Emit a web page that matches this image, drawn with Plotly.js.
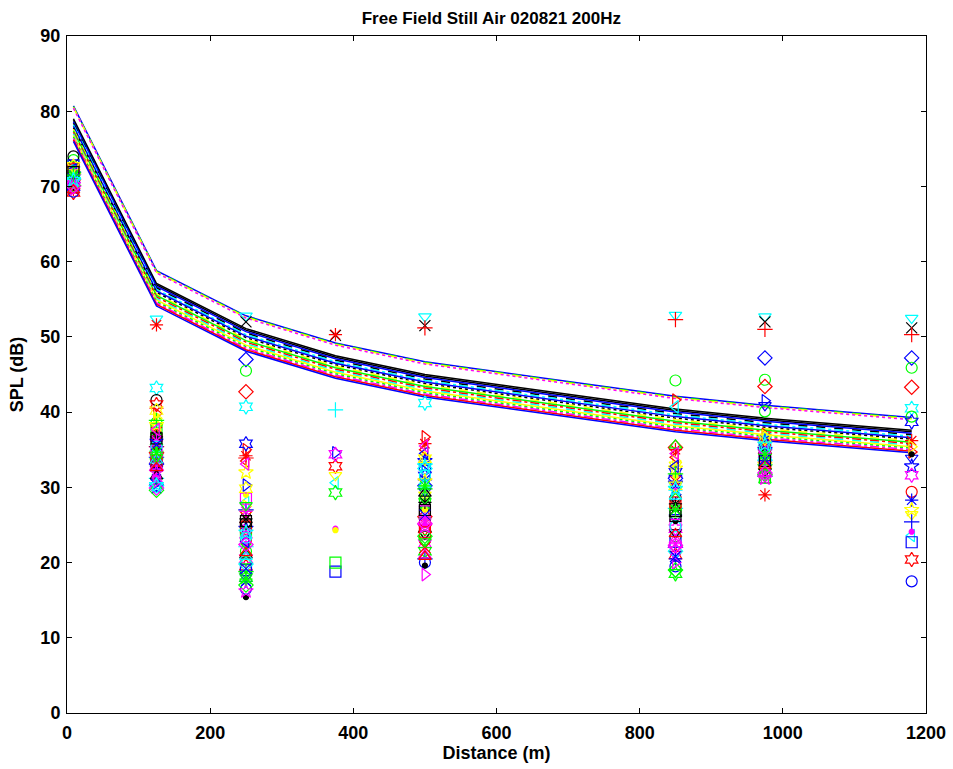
<!DOCTYPE html>
<html>
<head>
<meta charset="utf-8">
<script src="https://cdn.plot.ly/plotly-3.0.1.min.js"></script>
<style>html,body{margin:0;padding:0;background:#fff;}#chart{width:953px;height:769px;}</style>
</head>
<body>
<div id="chart"></div>
<script>
// ---------------- DATA ----------------
const distances = [9, 125, 250, 375, 500, 850, 975, 1180];

// model lines (SPL in dB at each distance)
const lineValues = [
  [80.7, 58.8, 52.8, 49.2, 46.7, 42.1, 40.9, 39.3],
  [80.6, 58.7, 52.7, 49.1, 46.6, 42.0, 40.8, 39.2],
  [80.5, 58.6, 52.6, 49.0, 46.5, 41.9, 40.7, 39.1],
  [80.4, 58.5, 52.5, 48.9, 46.4, 41.8, 40.6, 39.0],
  [79.0, 57.1, 51.1, 47.5, 45.0, 40.4, 39.2, 37.6],
  [78.8, 56.9, 50.9, 47.3, 44.8, 40.2, 39.0, 37.4],
  [78.6, 56.7, 50.7, 47.1, 44.6, 40.0, 38.8, 37.2],
  [78.4, 56.5, 50.5, 46.9, 44.4, 39.8, 38.6, 37.0],
  [78.2, 56.3, 50.3, 46.7, 44.2, 39.6, 38.4, 36.8],
  [78.0, 56.1, 50.1, 46.5, 44.0, 39.4, 38.2, 36.6],
  [77.8, 55.9, 49.9, 46.3, 43.8, 39.2, 38.0, 36.4],
  [77.6, 55.7, 49.7, 46.1, 43.6, 39.0, 37.8, 36.2],
  [77.4, 55.5, 49.5, 45.9, 43.4, 38.8, 37.6, 36.0],
  [77.2, 55.3, 49.3, 45.7, 43.2, 38.6, 37.4, 35.8],
  [77.0, 55.1, 49.1, 45.5, 43.0, 38.4, 37.2, 35.6],
  [76.8, 54.9, 48.9, 45.3, 42.8, 38.2, 37.0, 35.4],
  [76.6, 54.7, 48.7, 45.1, 42.6, 38.0, 36.8, 35.2],
  [76.4, 54.5, 48.5, 44.9, 42.4, 37.8, 36.6, 35.0],
  [76.2, 54.3, 48.3, 44.7, 42.2, 37.6, 36.4, 34.8],
  [76.0, 54.1, 48.1, 44.5, 42.0, 37.4, 36.2, 34.6]
];

// measured SPL per run (null = no point)
const markerValues = [
  [70.4, 52.4, 52.8, null, 52.7, 52.9, 52.7, 52.5],
  [71.3, 36.1, 52.0, 50.2, 51.5, null, 52.0, 51.2],
  [70.1, 35.4, 33.9, null, 51.2, 52.3, 51.0, 50.3],
  [69.6, 51.6, 34.2, 50.3, 35.8, 35.0, 29.0, 36.2],
  [71.6, 33.1, 47.0, null, 30.2, 31.2, 47.2, 47.2],
  [73.5, 38.6, 45.5, null, 28.2, 44.2, 44.3, 45.9],
  [70.9, 34.6, 42.7, null, 26.1, 35.3, 43.4, 43.3],
  [72.1, 43.2, 40.7, null, 41.2, 30.1, 36.1, 40.5],
  [71.0, 31.2, 22.1, 40.3, 33.1, 27.2, 35.1, null],
  [70.3, 30.6, 30.3, 34.6, 32.1, 29.0, 41.5, null],
  [74.0, 41.6, 25.3, null, 27.5, 28.5, 33.5, null],
  [69.2, 41.0, 19.5, 32.8, 24.5, 21.0, 34.0, 20.4],
  [70.6, 39.8, 35.0, null, 36.7, 41.6, 37.0, 34.7],
  [71.8, 37.5, 28.0, 30.6, 30.5, 40.7, 36.5, 23.6],
  [71.4, 32.5, 18.5, null, 29.5, 26.0, 40.9, 33.9],
  [72.6, 36.8, 21.5, null, 23.0, 23.5, 40.1, 39.4],
  [70.0, 35.9, 35.8, null, 31.5, 32.0, 35.5, 38.7],
  [69.8, 30.0, 24.5, null, 33.5, 30.5, 35.0, 32.8],
  [71.1, 33.8, 20.5, 34.4, 22.5, 24.5, 34.5, 31.6],
  [72.3, 37.0, 23.0, null, 25.5, 27.5, 33.0, 29.4],
  [70.7, 32.2, 17.5, null, 31.0, 20.5, 36.3, 28.3],
  [69.9, 38.0, 26.5, 31.6, 29.0, 33.0, 32.5, 26.4],
  [71.9, 34.0, 27.0, null, 20.5, 22.0, 31.5, 25.4],
  [70.5, 31.8, 22.5, 24.5, 25.0, 29.5, 33.8, 24.1],
  [72.8, 33.4, 19.0, 18.8, 33.0, 22.8, 34.3, 22.7],
  [69.3, 36.4, 16.5, null, 20.0, 19.5, 32.8, 17.5],
  [70.2, 39.2, 27.5, null, 34.0, 33.5, 36.8, 35.4],
  [71.7, 35.0, 15.4, null, 19.6, 25.5, 34.7, 34.4],
  [70.8, 37.8, 24.0, 20.0, 26.5, 26.8, 31.3, null],
  [71.5, 34.3, 18.0, 29.3, 21.5, 18.5, 32.0, null],
  [70.0, 39.5, 29.0, 24.3, 27.0, 31.5, 36.0, null],
  [72.0, 36.0, 20.2, null, 28.8, 35.6, 31.0, null],
  [71.2, 33.0, 25.0, null, 23.8, 24.0, 32.1, null],
  [70.4, 35.6, 33.5, null, 35.0, 34.0, 35.3, null],
  [70.9, 31.5, 21.0, null, 29.2, 26.5, 33.2, null],
  [69.6, 37.3, 26.0, null, 22.0, 30.8, 35.8, null],
  [72.4, 33.5, 24.7, null, 24.0, 28.0, 34.9, null],
  [71.0, 30.2, 19.8, null, 32.5, 21.5, 33.6, null],
  [70.3, 36.7, 25.8, null, 28.0, 27.8, 34.6, null],
  [71.4, 38.3, 32.0, null, 30.8, 32.5, 33.0, 27.0],
  [70.6, 32.8, 23.6, null, 21.0, 23.0, 31.8, null],
  [69.9, 35.1, 21.8, null, 27.8, 29.2, 32.5, null],
  [71.6, 34.8, 28.5, null, 26.8, 25.0, 33.9, null],
  [70.1, 29.6, 17.0, null, 23.5, 19.0, 31.7, null],
  [72.2, 31.0, 22.8, null, 34.5, 32.8, 35.6, null],
  [70.8, 36.2, 26.8, null, 25.8, 22.5, 33.4, null],
  [71.3, 33.6, 20.8, null, 30.4, 28.8, 34.2, null],
  [69.7, 30.8, 24.2, null, 18.4, 20.0, 32.3, null],
  [71.8, 38.9, 18.8, null, 29.8, 31.8, 33.0, null],
  [70.5, 35.4, 23.3, null, 31.6, 24.8, 35.2, null],
  [71.1, 34.0, 27.6, null, 22.8, 18.7, 34.0, null],
  [72.7, 40.2, 29.8, null, 33.8, 30.2, 36.5, null],
  [70.2, 32.0, 16.2, null, 24.8, 21.8, 31.2, null],
  [71.9, 36.5, 25.5, null, 27.0, 26.2, 33.5, null],
  [70.7, 37.7, 33.1, null, 35.5, 34.5, 34.8, null],
  [69.5, 32.6, 21.3, null, 20.8, 23.8, 32.9, null],
  [71.0, 35.7, 19.2, null, 26.3, 20.8, 33.7, null],
  [70.0, 29.9, 22.4, null, 25.2, 22.3, 31.9, null],
  [71.5, 34.6, 17.8, null, 30.2, 27.0, 34.4, null],
  [70.9, 30.3, 24.0, null, 32.8, 29.8, 35.7, null]
];

const titleText = "Free Field Still Air 020821 200Hz";
const xTitle = "Distance (m)";
const yTitle = "SPL (dB)";

// ---------------- STYLES ----------------
const C = {b:'#0000ff', g:'#00ff00', r:'#ff0000', c:'#00ffff', m:'#ff00ff', y:'#ffff00', k:'#000000'};
const S = {
  'o':'circle-open', '+':'cross-thin-open', '*':'asterisk-open', '.':'circle',
  'x':'x-thin-open', 's':'square-open', 'd':'diamond-open', '^':'triangle-up-open',
  'v':'triangle-down-open', '>':'triangle-right-open', '<':'triangle-left-open',
  'p':'star-open', 'h':'hexagram-open'
};
const lineStyles = [
  ['b','solid'],['g','dash'],['y','dashdot'],['m','dot'],
  ['k','solid'],['k','solid'],['b','solid'],['k','dash'],['c','dashdot'],['b','solid'],
  ['k','dot'],['y','dash'],['g','solid'],['r','dashdot'],['c','dash'],['y','solid'],
  ['g','dot'],['m','dashdot'],['r','solid'],['b','solid']
];
const markerStyles = [
  'vc','xk','+r','*r','db','og','dr','hc','+c','>b','ok','hr','>r','<c','vb','og',
  'hb','pb','hm','or','*b','vy','+b','.m','sb','ob','>y','.k','sg','hg','.y','^g',
  'vk','<r','^k','xr','sr','dc','*k','py','^m','xg','sm','dg','<b','*m','^c','>m',
  '+g','oc','vg','hy','pm','sk','<m','^r','xb','dm','*g','pc'
];

const traces = [];
lineValues.forEach((vals, i) => {
  const st = lineStyles[i % lineStyles.length];
  traces.push({
    type:'scatter', mode:'lines', x: distances, y: vals,
    line:{color:C[st[0]], width:1.5, dash:st[1]}, hoverinfo:'skip'
  });
});
markerValues.forEach((vals, i) => {
  const st = markerStyles[i % markerStyles.length];
  const sym = S[st[0]], col = C[st[1]];
  const isDot = st[0] === '.';
  traces.push({
    type:'scatter', mode:'markers', x: distances, y: vals,
    marker:{symbol:sym, size: isDot ? 5 : 11, color: col,
            line:{color: col, width: 1.2}},
    hoverinfo:'skip'
  });
});

const fam = '"Liberation Sans", Arial, Helvetica, sans-serif';
const tickFont = {family:fam, size:18, color:'#000', weight:'bold'};
const axTitleFont = {family:fam, size:18, color:'#000', weight:'bold'};

const layout = {
  width:953, height:769,
  margin:{l:67, r:27, t:36, b:56, pad:0},
  paper_bgcolor:'#fff', plot_bgcolor:'#fff',
  showlegend:false, hovermode:false,
  font: tickFont,
  title:{text:titleText, font:{family:fam, size:17, color:'#000', weight:'bold'},
         x:0.494, xref:'paper', xanchor:'center', y:0.977, yref:'container', yanchor:'middle'},
  xaxis:{range:[0,1200], dtick:200, tick0:0, ticks:'inside', ticklen:5, tickwidth:1, tickcolor:'#000',
         showline:true, linecolor:'#000', linewidth:1, mirror:'ticks', showgrid:false, zeroline:false,
         tickfont:tickFont, ticklabelstandoff:3, title:{text:xTitle, font:axTitleFont, standoff:2}},
  yaxis:{range:[0,90], dtick:10, tick0:0, ticks:'inside', ticklen:5, tickwidth:1, tickcolor:'#000',
         showline:true, linecolor:'#000', linewidth:1, mirror:'ticks', showgrid:false, zeroline:false,
         tickfont:tickFont, ticklabelstandoff:2, title:{text:yTitle, font:axTitleFont, standoff:12}}
};

Plotly.newPlot('chart', traces, layout, {staticPlot:true, displayModeBar:false});
</script>
</body>
</html>
